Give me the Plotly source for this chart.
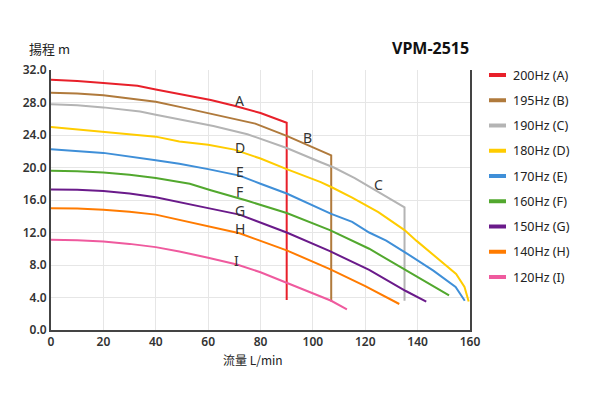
import plotly.graph_objects as go

# ---- data ----
names = ["200Hz (A)", "195Hz (B)", "190Hz (C)", "180Hz (D)", "170Hz (E)",
         "160Hz (F)", "150Hz (G)", "140Hz (H)", "120Hz (I)"]
letters = ["A", "B", "C", "D", "E", "F", "G", "H", "I"]
colors = ["#e8202a", "#b07a3c", "#b4b4b4", "#ffcc00", "#3f8fd8",
          "#52a82e", "#6a1a8a", "#ff7b00", "#ef5a9e"]

xA = [0, 10, 20, 33, 40, 50, 61, 70, 80, 90, 90]
yA = [30.8, 30.65, 30.4, 30.05, 29.6, 29.0, 28.3, 27.6, 26.7, 25.5, 3.7]
xB = [0, 10, 20, 34, 40, 50, 60, 70, 78, 90, 100, 107, 107]
yB = [29.2, 29.1, 28.9, 28.4, 28.1, 27.4, 26.7, 26.0, 25.4, 23.9, 22.5, 21.5, 3.5]
xC = [0, 10, 20, 34, 40, 50, 62, 75, 90, 103, 108, 116, 124, 135, 135]
yC = [27.8, 27.65, 27.4, 26.9, 26.5, 25.9, 25.1, 24.1, 22.4, 20.65, 20.0, 18.7, 17.2, 15.1, 3.6]
xD = [0, 20, 40, 49, 60, 70, 80, 90, 103, 107, 115, 125, 135, 139.5, 147, 154.7, 157.9, 159.5]
yD = [25.0, 24.4, 23.8, 23.2, 22.8, 22.2, 21.1, 19.8, 18.2, 17.6, 16.3, 14.5, 12.3, 11.0, 9.0, 6.9, 5.3, 3.5]
xE = [0, 20, 40, 49, 60, 72, 80, 90, 107, 115, 121.5, 128, 135.5, 146, 154.5, 158]
yE = [22.25, 21.8, 20.9, 20.45, 19.8, 19.0, 18.0, 16.8, 14.3, 13.3, 12.0, 11.0, 9.5, 7.3, 5.3, 3.6]
xF = [0, 10, 20, 30, 40, 53, 61, 75, 90, 106.5, 121.5, 135.5, 152]
yF = [19.6, 19.55, 19.4, 19.1, 18.7, 18.0, 17.2, 15.9, 14.4, 12.3, 10.0, 7.4, 4.25]
xG = [0, 10, 20, 30, 40, 49, 60, 72, 90, 106.5, 121.5, 135.5, 143.3]
yG = [17.3, 17.25, 17.1, 16.8, 16.35, 15.7, 15.0, 14.2, 12.0, 9.7, 7.4, 4.8, 3.5]
xH = [0, 10, 20, 30, 40, 49, 60, 72, 90, 106.5, 120, 133]
yH = [15.0, 14.95, 14.8, 14.55, 14.2, 13.55, 12.8, 11.9, 9.8, 7.5, 5.4, 3.2]
xI = [0, 10, 20, 30, 40, 49, 60, 71, 80, 90, 107, 113]
yI = [11.1, 11.05, 10.9, 10.6, 10.2, 9.66, 8.9, 8.06, 7.1, 5.8, 3.6, 2.55]

series_x = [xA, xB, xC, xD, xE, xF, xG, xH, xI]
series_y = [yA, yB, yC, yD, yE, yF, yG, yH, yI]

label_x = [72, 98, 125, 72, 72, 72, 72, 72, 70.8]
label_y = [28.3, 23.7, 17.9, 22.5, 19.5, 17.0, 14.7, 12.45, 8.55]

y_ticks = [0, 4, 8, 12, 16, 20, 24, 28, 32]
x_ticks = [0, 20, 40, 60, 80, 100, 120, 140, 160]

# ---- layout geometry (pixels) ----
W, H = 600, 400
L, R, T, B = 51, 470, 70, 330
pw, ph = R - L, B - T

def px(xp):
    return (xp - L) / pw

def py(yp):
    return (B - yp) / ph

fig = go.Figure()
for i in range(len(names)):
    fig.add_trace(go.Scatter(
        x=series_x[i], y=series_y[i], mode="lines", name=names[i],
        line=dict(color=colors[i], width=2), showlegend=False,
        hoverinfo="skip"))

annotations = []
shapes = []
for i in range(len(letters)):
    annotations.append(dict(x=label_x[i], y=label_y[i], xref="x", yref="y",
                            text=letters[i], showarrow=False,
                            font=dict(family="Noto Sans", size=14, color="#333")))

# manual legend
for i in range(len(names)):
    ycen = 75 + i * 25.25
    shapes.append(dict(type="line", xref="paper", yref="paper",
                       x0=px(489), x1=px(506), y0=py(ycen), y1=py(ycen),
                       line=dict(color=colors[i], width=4)))
    annotations.append(dict(x=px(511), y=py(ycen), xref="paper", yref="paper",
                            text=names[i], showarrow=False, xanchor="left",
                            yanchor="middle",
                            font=dict(family="Noto Sans", size=12.5, color="#222")))

annotations.append(dict(x=px(27), y=py(48), xref="paper", yref="paper",
                        text="揚程 m", showarrow=False, xanchor="left",
                        yanchor="middle",
                        font=dict(family="Noto Sans CJK TC", size=13, color="#222")))
annotations.append(dict(x=px(471), y=py(48), xref="paper", yref="paper",
                        text="<b>VPM-2515</b>", showarrow=False, xanchor="right",
                        yanchor="middle",
                        font=dict(family="Noto Sans", size=16, color="#111")))
annotations.append(dict(x=px(253), y=py(359), xref="paper", yref="paper",
                        text="流量 L/min", showarrow=False, xanchor="center",
                        yanchor="middle",
                        font=dict(family="Noto Sans CJK TC", size=12, color="#222")))

fig.update_layout(
    width=W, height=H,
    margin=dict(l=L, r=W - R, t=T, b=H - B, pad=0),
    plot_bgcolor="white", paper_bgcolor="white",
    annotations=annotations, shapes=shapes,
    showlegend=False,
)
fig.update_xaxes(range=[0, 160], tickvals=x_ticks, ticktext=[str(v) for v in x_ticks],
                 showgrid=True, gridcolor="#e6e6e6", gridwidth=1,
                 showline=True, linecolor="#444", linewidth=2,
                 zeroline=False, ticks="", ticklen=0,
                 tickfont=dict(family="Noto Sans", size=12, color="#333", weight=600))
fig.update_yaxes(range=[0, 32], tickvals=y_ticks, ticktext=[f"{v:.1f}" for v in y_ticks],
                 showgrid=True, gridcolor="#e6e6e6", gridwidth=1,
                 showline=True, linecolor="#444", linewidth=2, mirror=True,
                 zeroline=False, ticks="", ticklen=0,
                 tickfont=dict(family="Noto Sans", size=12, color="#333", weight=600))

fig.write_html("out.html", config={"displayModeBar": False},
               post_script="document.body.style.margin='0px';")
